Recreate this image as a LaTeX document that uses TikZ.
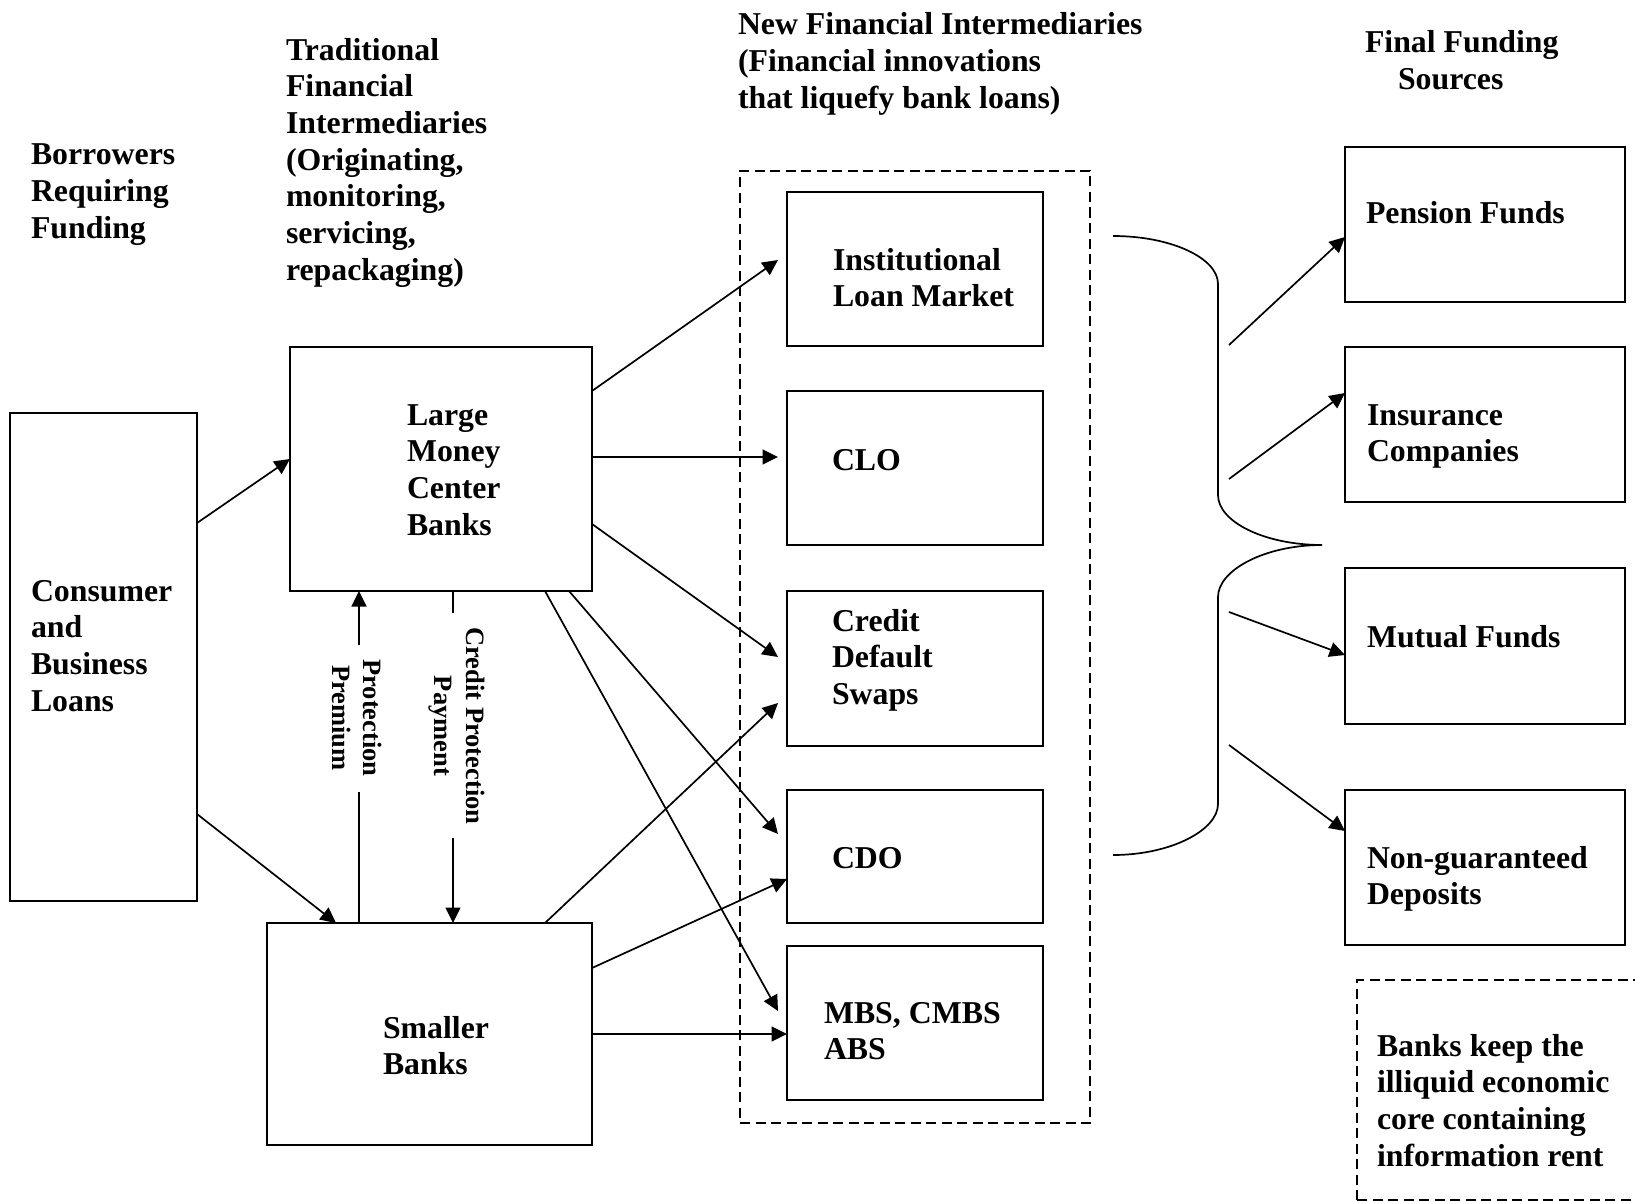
\documentclass[tikz,border=0pt]{standalone}
\usepackage{fontspec}
\setmainfont{Liberation Serif}
\usetikzlibrary{arrows.meta,calc}
\begin{document}
\begin{tikzpicture}[x=1pt,y=-1pt,
  every node/.style={inner sep=0pt,outer sep=0pt},
  box/.style={draw,line width=1.9pt},
  dashbox/.style={draw,line width=1.9pt,dash pattern=on 10pt off 5.5pt},
  % multi-line labels are placed by the baseline of their last line
  lbl/.style={anchor=base west,align=left,
    font=\fontsize{31.8}{36.7}\selectfont\bfseries},
  vlbl/.style={rotate=-90,align=center,
    font=\fontsize{26.5}{31.5}\selectfont\bfseries},
  link/.style={line width=1.7pt},
  arr/.style={line width=1.7pt,-{Triangle[length=15.5pt,width=15pt]}}]
\useasboundingbox (0,0) rectangle (1635,1201);
\clip (0,0) rectangle (1635,1201);

% column headings
\node[lbl] (hBorrow) at (31,238.4) {Borrowers\\Requiring\\Funding};
\node[lbl] (hTrad) at (286,280.2) {Traditional\\Financial\\Intermediaries\\(Originating,\\monitoring,\\servicing,\\repackaging)};
\node[lbl] (hNew) at (738,108.4) {New Financial Intermediaries\\(Financial innovations\\that liquefy bank loans)};
\node[lbl] (hFinal) at (1365,89.7) {Final Funding\\\hspace*{33pt}Sources};

% borrowers and traditional intermediaries
\node[box,minimum width=186.6pt,minimum height=488pt] (cons) at (103.7,657) {};
\node[lbl] (consT) at (31,711.1) {Consumer\\and\\Business\\Loans};
\node[box,minimum width=302pt,minimum height=244pt] (large) at (441,469) {};
\node[lbl] (largeT) at (407,535.1) {Large\\Money\\Center\\Banks};
\node[box,minimum width=325pt,minimum height=222pt] (small) at (429.5,1034) {};
\node[lbl] (smallT) at (383,1074.7) {Smaller\\Banks};

% new financial intermediaries
\node[dashbox,minimum width=350pt,minimum height=952pt] (newgrp) at (915,647) {};
\node[box,minimum width=256pt,minimum height=154pt] (ilm) at (915,269) {};
\node[lbl] (ilmT) at (833,306.7) {Institutional\\Loan Market};
\node[box,minimum width=256pt,minimum height=154pt] (clo) at (915,468) {};
\node[lbl] (cloT) at (832,470) {CLO};
\node[box,minimum width=256pt,minimum height=155pt] (cds) at (915,668.5) {};
\node[lbl] (cdsT) at (832,704.4) {Credit\\Default\\Swaps};
\node[box,minimum width=256pt,minimum height=133pt] (cdo) at (915,856.5) {};
\node[lbl] (cdoT) at (832,868) {CDO};
\node[box,minimum width=256pt,minimum height=154pt] (mbs) at (915,1023) {};
\node[lbl] (mbsT) at (824,1059.7) {MBS, CMBS\\ABS};

% final funding sources
\node[box,minimum width=280pt,minimum height=155pt] (pens) at (1485,224.5) {};
\node[lbl] (pensT) at (1366,223) {Pension Funds};
\node[box,minimum width=280pt,minimum height=155pt] (ins) at (1485,424.5) {};
\node[lbl] (insT) at (1367,461.7) {Insurance\\Companies};
\node[box,minimum width=280pt,minimum height=156pt] (mut) at (1485,646) {};
\node[lbl] (mutT) at (1367,647) {Mutual Funds};
\node[box,minimum width=280pt,minimum height=155pt] (nong) at (1485,867.5) {};
\node[lbl] (nongT) at (1367,904.7) {Non-guaranteed\\Deposits};

% note box, running off the right edge
\node[dashbox,minimum width=343pt,minimum height=220pt] (note) at (1528.5,1090) {};
\node[lbl] (noteT) at (1377,1166.1) {Banks keep the\\illiquid economic\\core containing\\information rent};

% borrowers to banks
\draw[arr] (cons.east |- 0,523) -- (large.west |- 0,459);
\draw[arr] (cons.east |- 0,814) -- (small.north -| 336,0);

% large banks to the new intermediaries
\draw[arr] (large.east |- 0,391) -- ($(ilm.west |- 0,260)+(-9,0)$);
\draw[arr] (large.east |- 0,457) -- ($(clo.west |- 0,457)+(-9,0)$);
\draw[arr] (large.east |- 0,524) -- ($(cds.west |- 0,657)+(-9,0)$);
\draw[arr] (large.south -| 569,0) -- ($(cdo.west |- 0,834)+(-9,0)$);
\draw[arr] (large.south -| 545,0) -- ($(mbs.west |- 0,1011)+(-9,0)$);

% smaller banks to the new intermediaries
\draw[arr] (small.north -| 545,0) -- ($(cds.west |- 0,703)+(-9,0)$);
\draw[arr] (small.east |- 0,968) -- (cdo.west |- 0,879);
\draw[arr] (small.east |- 0,1034) -- (mbs.west |- 0,1034);

% credit protection flows between the banks
\node[vlbl] (premT) at (357,718) {Protection\\Premium};
\node[vlbl] (payT) at (457,726) {Credit Protection\\Payment};
\coordinate (ppLo) at (359,792);
\coordinate (ppHi) at (359,645);
\coordinate (cpHi) at (453,613);
\coordinate (cpLo) at (453,838);
\draw[link] (small.north -| ppLo) -- (ppLo);
\draw[arr] (ppHi) -- (large.south -| ppHi);
\draw[link] (large.south -| cpHi) -- (cpHi);
\draw[arr] (cpLo) -- (small.north -| cpLo);

% brace gathering the new intermediaries
\draw[line width=1.7pt] (1113,236) .. controls (1171,236) and (1218,258) .. (1218,284)
  -- (1218,495) .. controls (1218,522) and (1265,545) .. (1322,545)
  .. controls (1265,545) and (1218,570) .. (1218,597)
  -- (1218,804) .. controls (1218,830) and (1171,855) .. (1113,855);

% brace to final funding sources
\coordinate (r1) at (1229,345);
\coordinate (r2) at (1229,479);
\coordinate (r3) at (1229,612);
\coordinate (r4) at (1229,745);
\draw[arr] (r1) -- (pens.west |- 0,237);
\draw[arr] (r2) -- (ins.west |- 0,393);
\draw[arr] (r3) -- (mut.west |- 0,655);
\draw[arr] (r4) -- (nong.west |- 0,831);
\end{tikzpicture}
\end{document}
